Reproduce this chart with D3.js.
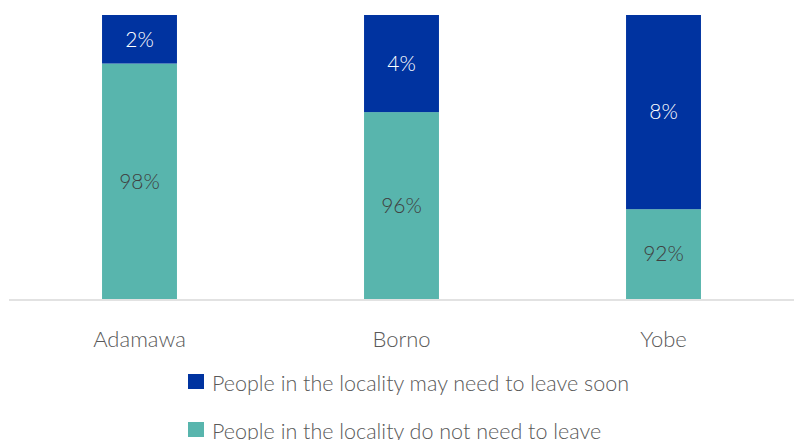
<!DOCTYPE html>
<html>
<head>
<meta charset="utf-8">
<script src="https://cdn.jsdelivr.net/npm/d3@7"></script>
<style>
  html, body { margin: 0; padding: 0; background: #fff; }
  svg { display: block; font-family: "Lato", "Open Sans", sans-serif; font-weight: 300; }
</style>
</head>
<body>
<svg id="chart" width="794" height="440"></svg>
<script>
// States surveyed
const categories = ["Adamawa", "Borno", "Yobe"];
// Share of respondents (%) per answer
const doNotNeedToLeave = [98, 96, 92];
const mayNeedToLeaveSoon = [2, 4, 8];
const seriesNames = [
  "People in the locality may need to leave soon",
  "People in the locality do not need to leave"
];
const colors = { leave: "#0033A0", stay: "#58B5AD" };

const svg = d3.select("#chart");
const plot = { left: 8.5, right: 794.5, top: 15, bottom: 299 };

const x = d3.scaleBand()
  .domain(categories)
  .range([plot.left, plot.right])
  .paddingInner(0.714)
  .paddingOuter(0.357);

// Value axis is zoomed in on the upper part of the 0–100% range
const y = d3.scaleLinear()
  .domain([88.3, 100])
  .range([plot.bottom, plot.top]);

const rows = categories.map((c, i) => ({
  cat: c,
  segs: [
    { key: "stay", v0: 0, v1: doNotNeedToLeave[i], value: doNotNeedToLeave[i] },
    { key: "leave", v0: doNotNeedToLeave[i], v1: doNotNeedToLeave[i] + mayNeedToLeaveSoon[i], value: mayNeedToLeaveSoon[i] }
  ]
}));

const bars = svg.append("g");
const clampY = v => Math.max(plot.top, Math.min(plot.bottom, y(v)));

rows.forEach(r => {
  r.segs.forEach(s => {
    const yTop = clampY(s.v1), yBot = clampY(s.v0);
    bars.append("rect")
      .attr("x", x(r.cat))
      .attr("width", x.bandwidth())
      .attr("y", yTop)
      .attr("height", yBot - yTop)
      .attr("fill", colors[s.key]);
    svg.append("text")
      .attr("x", x(r.cat) + x.bandwidth() / 2)
      .attr("y", (yTop + yBot) / 2)
      .attr("dy", "0.35em")
      .attr("text-anchor", "middle")
      .attr("font-size", 21)
      .attr("fill", s.key === "leave" ? "#ffffff" : "#404040")
      .text(s.value + "%");
  });
});

// Category axis
const xAxis = svg.append("g")
  .attr("transform", `translate(0,${plot.bottom + 0.5})`)
  .call(d3.axisBottom(x).tickSize(0).tickPadding(32));
xAxis.select(".domain").attr("stroke", "#d9d9d9").attr("stroke-width", 1.5);
xAxis.selectAll("text")
  .attr("font-size", 22)
  .attr("font-family", "Lato, sans-serif")
  .attr("font-weight", 300)
  .attr("fill", "#595959");

// Legend
const legend = svg.append("g");
[{ name: seriesNames[0], key: "leave", y: 374 }, { name: seriesNames[1], key: "stay", y: 422 }]
  .forEach(d => {
    legend.append("rect")
      .attr("x", 188).attr("y", d.y)
      .attr("width", 16).attr("height", 15)
      .attr("fill", colors[d.key]);
    legend.append("text")
      .attr("x", 212).attr("y", d.y + 17)
      .attr("font-size", 21.5)
      .attr("fill", "#595959")
      .text(d.name);
  });
</script>
</body>
</html>
